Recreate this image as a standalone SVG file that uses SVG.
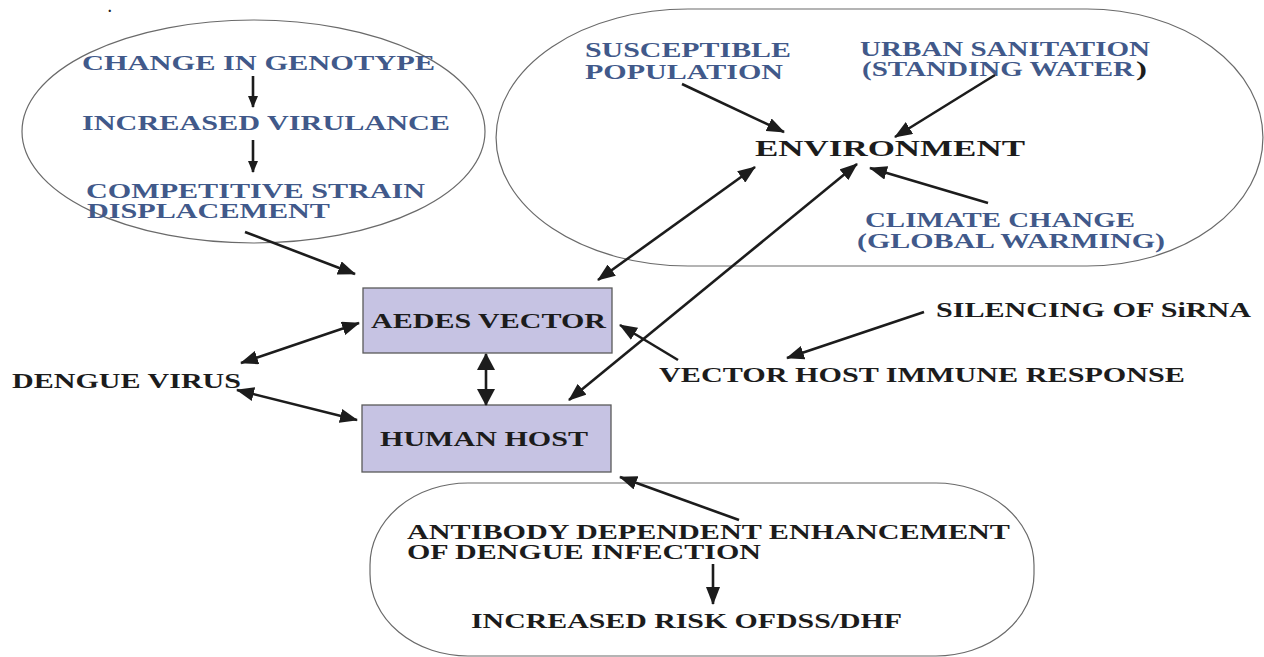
<svg xmlns="http://www.w3.org/2000/svg" width="1264" height="657" viewBox="0 0 1264 657">
<defs>
<style>
text{font-family:"Liberation Serif","Times New Roman",serif;font-weight:bold}
.blue{fill:#41598a;font-size:22px}
.b2{fill:#41598a;font-size:20px}
.blk{fill:#1c1c1c;font-size:21px}
.k2{fill:#1c1c1c;font-size:20px}
.env{fill:#1c1c1c;font-size:24px}
.frame{fill:none;stroke:#6a6a6a;stroke-width:1.2}
.box{fill:#c6c3e3;stroke:#5a5a5a;stroke-width:1.3}
.ln{fill:none;stroke:#1c1c1c;stroke-width:2.6}
.one{marker-end:url(#ah)}
.two{marker-start:url(#ah);marker-end:url(#ah)}
</style>
<marker id="ah" viewBox="0 0 18 14" refX="17" refY="7" markerWidth="18" markerHeight="14" markerUnits="userSpaceOnUse" orient="auto-start-reverse"><path d="M0,0 L18,7 L0,14 z" fill="#1c1c1c"/></marker>
<marker id="sh" viewBox="0 0 12 10" refX="11" refY="5" markerWidth="12" markerHeight="10" markerUnits="userSpaceOnUse" orient="auto"><path d="M0,0 L12,5 L0,10 z" fill="#1c1c1c"/></marker>
<marker id="bh" viewBox="0 0 17 18" refX="16" refY="9" markerWidth="17" markerHeight="18" markerUnits="userSpaceOnUse" orient="auto-start-reverse"><path d="M0,0 L17,9 L0,18 z" fill="#1c1c1c"/></marker>
</defs>
<rect width="1264" height="657" fill="#ffffff"/>
<text x="108" y="12" fill="#1c1c1c" font-size="14px">.</text>

<g id="genotype-group">
<ellipse class="frame" cx="253.5" cy="131.5" rx="231.5" ry="111.5"/>
<text class="blue" x="82" y="70" textLength="353" lengthAdjust="spacingAndGlyphs">CHANGE IN GENOTYPE</text>
<text class="blue" x="82" y="130" textLength="368" lengthAdjust="spacingAndGlyphs">INCREASED VIRULANCE</text>
<text class="b2" x="86" y="198" textLength="339" lengthAdjust="spacingAndGlyphs">COMPETITIVE STRAIN</text>
<text class="b2" x="87" y="218" textLength="243" lengthAdjust="spacingAndGlyphs">DISPLACEMENT</text>
</g>

<g id="environment-group">
<path class="frame" d="M688,9 L1087,9 A176,128.5 0 0 1 1087,266 L688,266 A192,128.5 0 0 1 688,9 Z"/>
<text class="b2" x="585" y="57" textLength="206" lengthAdjust="spacingAndGlyphs">SUSCEPTIBLE</text>
<text class="b2" x="585" y="79" textLength="198" lengthAdjust="spacingAndGlyphs">POPULATION</text>
<text class="b2" x="860" y="56" textLength="290" lengthAdjust="spacingAndGlyphs">URBAN SANITATION</text>
<text class="b2" x="862" y="76" textLength="272" lengthAdjust="spacingAndGlyphs">(STANDING WATER</text>
<text class="k2" x="1136" y="76" textLength="11" lengthAdjust="spacingAndGlyphs">)</text>
<text class="env" x="755" y="156" textLength="270" lengthAdjust="spacingAndGlyphs">ENVIRONMENT</text>
<text class="b2" x="865" y="227" textLength="270" lengthAdjust="spacingAndGlyphs">CLIMATE CHANGE</text>
<text class="b2" x="857" y="248" textLength="308" lengthAdjust="spacingAndGlyphs">(GLOBAL WARMING)</text>
</g>

<g id="aedes-vector">
<rect class="box" x="363" y="288" width="249" height="65"/>
<text class="blk" x="371" y="328" textLength="235" lengthAdjust="spacingAndGlyphs">AEDES VECTOR</text>
</g>

<g id="human-host">
<rect class="box" x="362" y="405" width="249" height="67"/>
<text class="blk" x="380" y="446" textLength="208" lengthAdjust="spacingAndGlyphs">HUMAN HOST</text>
</g>

<g id="dengue-virus">
<text class="blk" x="12" y="388" textLength="229" lengthAdjust="spacingAndGlyphs">DENGUE VIRUS</text>
</g>

<g id="silencing">
<text class="blk" x="936" y="317" textLength="315" lengthAdjust="spacingAndGlyphs">SILENCING OF SiRNA</text>
</g>

<g id="immune-response">
<text class="blk" x="659" y="382" textLength="526" lengthAdjust="spacingAndGlyphs">VECTOR HOST IMMUNE RESPONSE</text>
</g>

<g id="ade-group">
<rect class="frame" x="370" y="483" width="664" height="173" rx="98" ry="82"/>
<text class="k2" x="407" y="539" textLength="603" lengthAdjust="spacingAndGlyphs">ANTIBODY DEPENDENT ENHANCEMENT</text>
<text class="k2" x="407" y="559" textLength="354" lengthAdjust="spacingAndGlyphs">OF DENGUE INFECTION</text>
<text class="blk" x="471" y="628" textLength="431" lengthAdjust="spacingAndGlyphs">INCREASED RISK OFDSS/DHF</text>
</g>

<g id="connectors">
<line class="ln" x1="253" y1="76" x2="253" y2="107" stroke-width="2" marker-end="url(#sh)"/>
<line class="ln" x1="253" y1="140" x2="253" y2="172" stroke-width="2" marker-end="url(#sh)"/>
<line class="ln one" x1="245" y1="232" x2="355" y2="274"/>
<line class="ln one" x1="682" y1="84" x2="784" y2="132"/>
<line class="ln one" x1="995" y1="75" x2="895" y2="137"/>
<line class="ln one" x1="988" y1="203" x2="870" y2="168"/>
<line class="ln two" x1="598" y1="280" x2="755" y2="167"/>
<line class="ln two" x1="569" y1="400" x2="857" y2="164"/>
<line class="ln two" x1="241" y1="363" x2="359" y2="323"/>
<line class="ln two" x1="237" y1="390" x2="357" y2="420"/>
<line class="ln" x1="486" y1="354" x2="486" y2="405" stroke-width="3.5" marker-start="url(#bh)" marker-end="url(#bh)"/>
<line class="ln one" x1="678" y1="360" x2="620" y2="325"/>
<line class="ln one" x1="924" y1="312" x2="787" y2="358"/>
<line class="ln one" x1="739" y1="520" x2="620" y2="477"/>
<line class="ln one" x1="713" y1="564" x2="713" y2="604" stroke-width="3"/>
</g>
</svg>
